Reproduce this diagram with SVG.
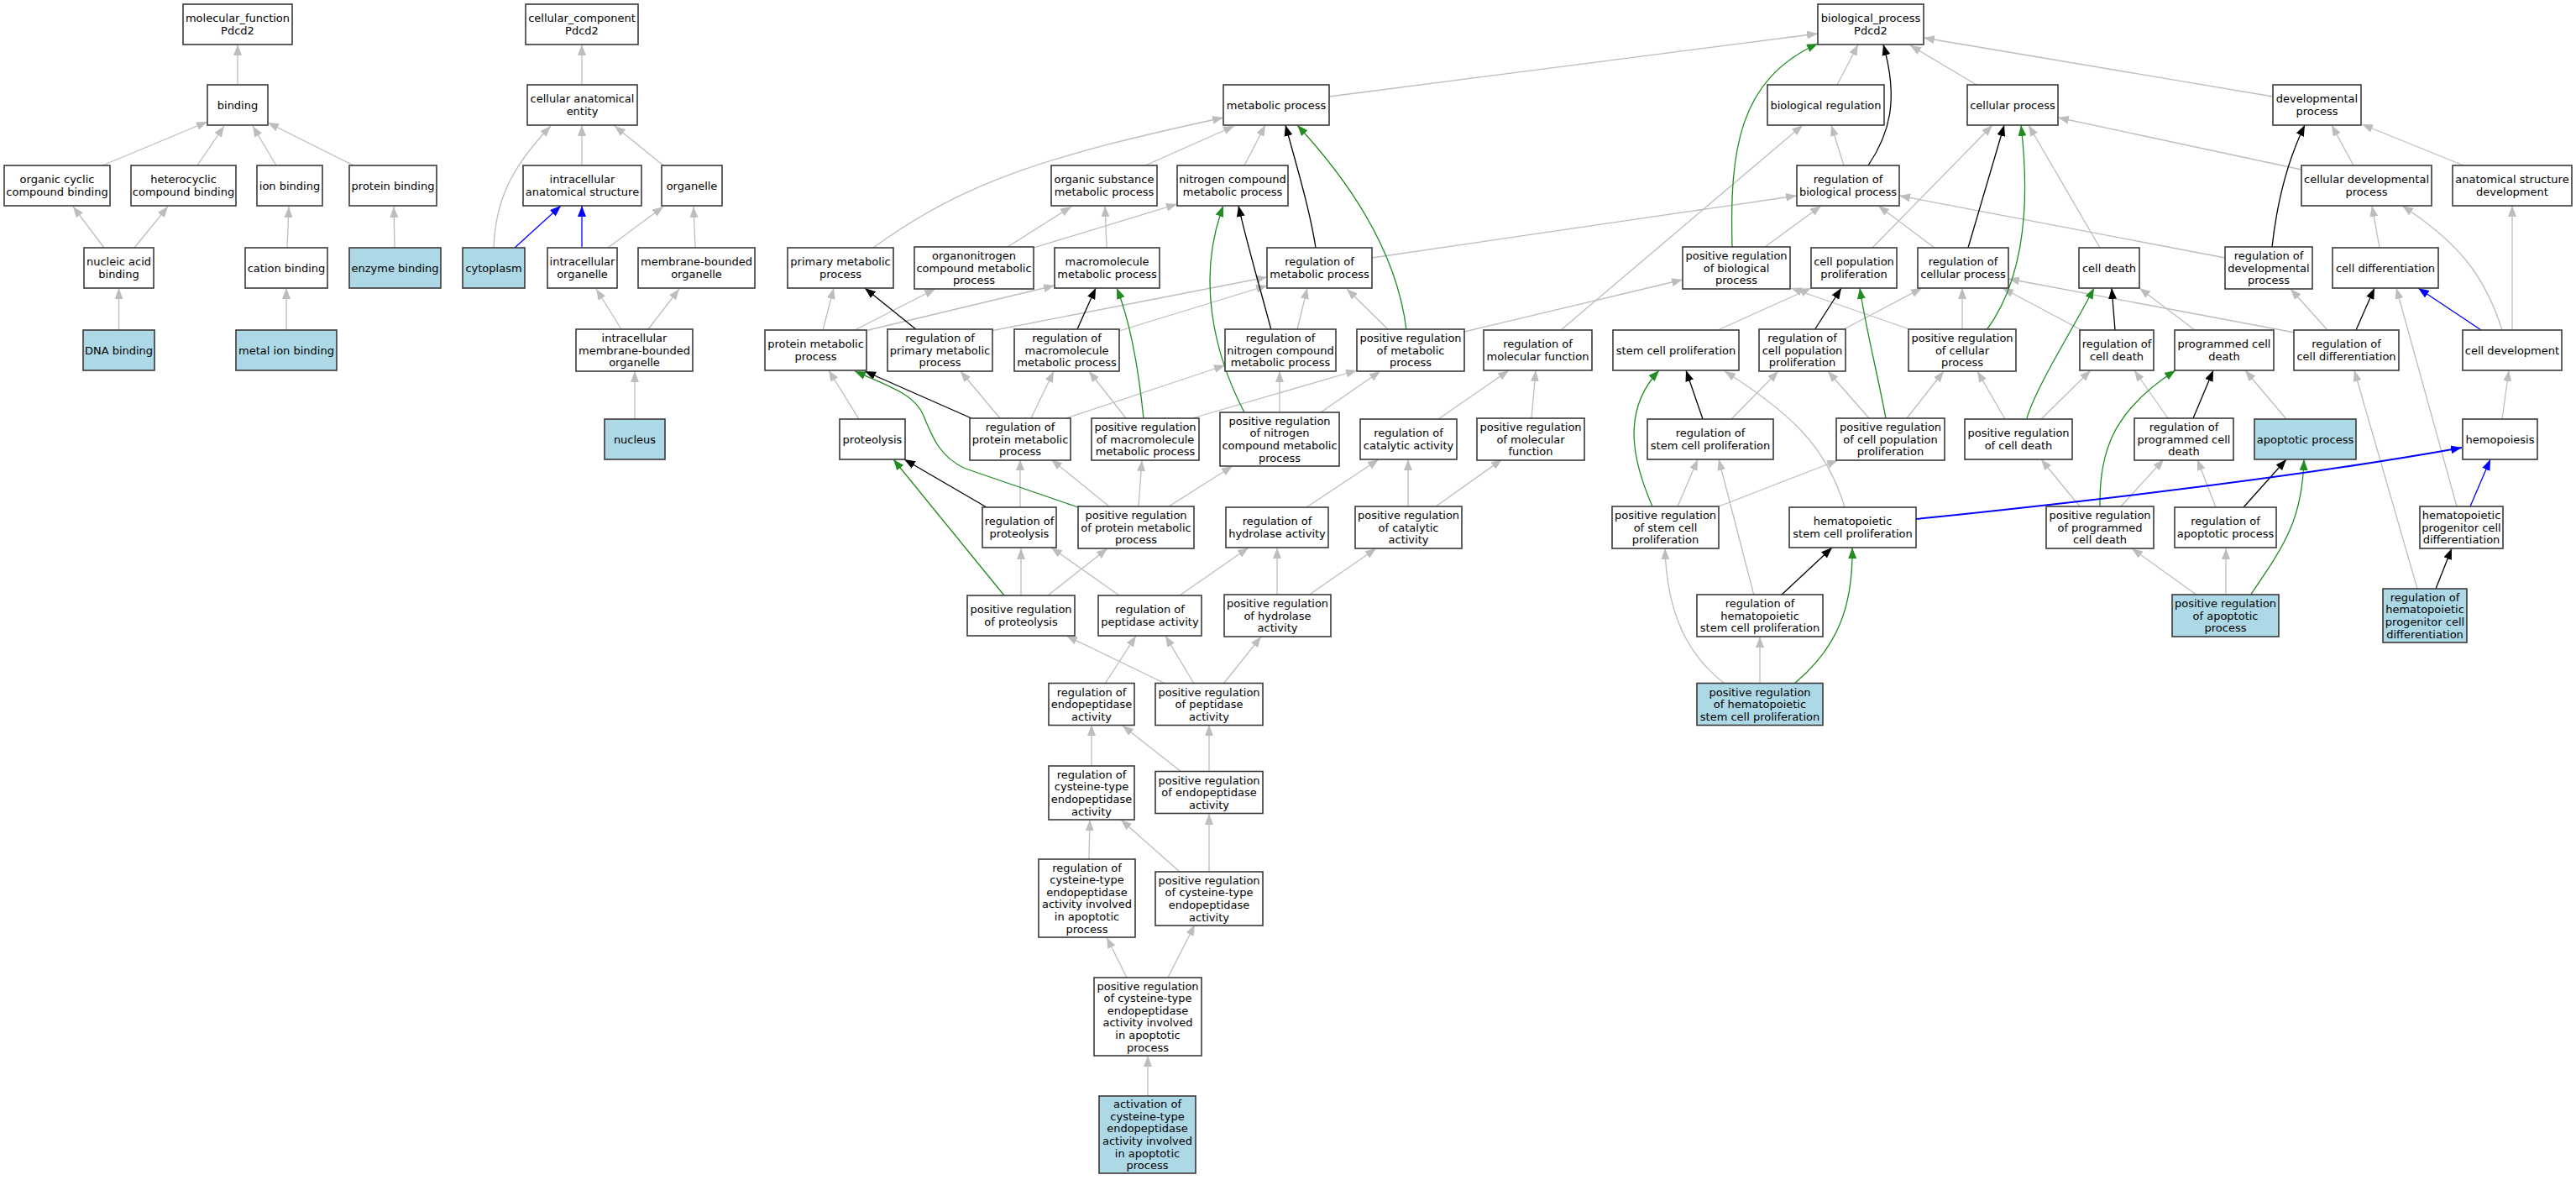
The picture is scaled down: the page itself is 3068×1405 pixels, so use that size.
<svg xmlns="http://www.w3.org/2000/svg" width="3068" height="1405" viewBox="0 0 3068 1405">
<style>
.n rect{fill:#fff;stroke:#3a3a3a;stroke-width:1.6}
.n.b rect{fill:#add8e6}
.n text{font-family:"DejaVu Sans","Liberation Sans",sans-serif;font-size:13px;text-anchor:middle;fill:#000}
.e path{fill:none;stroke-width:1.3}
.e .g{stroke:#bdbdbd;marker-end:url(#mg)}
.e .k{stroke:#000;marker-end:url(#mk)}
.e .gr{stroke:#228b22;marker-end:url(#mgr)}
.e .bl{stroke:#0000ff;marker-end:url(#mb)}
</style>
<defs>
<marker id="mg" viewBox="0 0 13 10" refX="13" refY="5" markerWidth="13" markerHeight="10" markerUnits="userSpaceOnUse" orient="auto"><path d="M0,0L13,5L0,10z" fill="#bdbdbd"/></marker>
<marker id="mk" viewBox="0 0 13 10" refX="13" refY="5" markerWidth="13" markerHeight="10" markerUnits="userSpaceOnUse" orient="auto"><path d="M0,0L13,5L0,10z" fill="#000"/></marker>
<marker id="mgr" viewBox="0 0 13 10" refX="13" refY="5" markerWidth="13" markerHeight="10" markerUnits="userSpaceOnUse" orient="auto"><path d="M0,0L13,5L0,10z" fill="#228b22"/></marker>
<marker id="mb" viewBox="0 0 13 10" refX="13" refY="5" markerWidth="13" markerHeight="10" markerUnits="userSpaceOnUse" orient="auto"><path d="M0,0L13,5L0,10z" fill="#0000ff"/></marker>
</defs>
<rect width="3068" height="1405" fill="#fff"/>
<g id="connectors" class="e">
<path class="g" d="M283,101 L283,53"/>
<path class="g" d="M122,197 L247,145"/>
<path class="g" d="M235,197 L267,150"/>
<path class="g" d="M329,197 L301,150"/>
<path class="g" d="M421,197 L319,146"/>
<path class="g" d="M124,295 L87,246"/>
<path class="g" d="M160,295 L200,246"/>
<path class="g" d="M342,295 L344,246"/>
<path class="g" d="M470,295 L469,246"/>
<path class="g" d="M141.5,393 L141.5,343"/>
<path class="g" d="M341,393 L341,343"/>
<path class="g" d="M693,101 L693,53"/>
<path class="g" d="M588,295 C590,240 608,200 656,150"/>
<path class="g" d="M693,197 L693,149"/>
<path class="g" d="M790,197 L732,150"/>
<path class="g" d="M724,295 L790,246"/>
<path class="g" d="M828,295 L826,246"/>
<path class="g" d="M740,392 L710,344"/>
<path class="g" d="M772,392 L809,344"/>
<path class="g" d="M756,499 L756,442"/>
<path class="g" d="M1583,115 L2165,40"/>
<path class="g" d="M2188,101 L2213,53"/>
<path class="g" d="M2354,101 L2275,54"/>
<path class="g" d="M2707,115 L2291,45"/>
<path class="g" d="M1040,295 C1150,215 1250,185 1457,140"/>
<path class="g" d="M1364,197 L1470,150"/>
<path class="g" d="M1482,197 L1507,149"/>
<path class="g" d="M1200,294 L1276,246"/>
<path class="g" d="M1231,295 L1402,243"/>
<path class="g" d="M1318,295 L1316,245"/>
<path class="g" d="M980,393 L993,343"/>
<path class="g" d="M1018,393 L1114,344"/>
<path class="g" d="M1030,394 L1256,340"/>
<path class="g" d="M1180,394 L1509,330"/>
<path class="g" d="M1333,394 L1509,340"/>
<path class="g" d="M1545,392 L1557,343"/>
<path class="g" d="M1653,392 L1604,344"/>
<path class="g" d="M1634,307 L2140,233"/>
<path class="g" d="M1744,395 L2004,333"/>
<path class="g" d="M1859,393 L2147,149"/>
<path class="g" d="M2196,197 L2181,149"/>
<path class="g" d="M2102,294 L2169,245"/>
<path class="g" d="M2304,295 L2237,245"/>
<path class="g" d="M2650,307 L2262,233"/>
<path class="g" d="M2230,295 L2373,149"/>
<path class="g" d="M2501,295 L2416,149"/>
<path class="g" d="M2741,202 L2451,140"/>
<path class="g" d="M2803,197 L2777,149"/>
<path class="g" d="M2934,197 L2813,148"/>
<path class="g" d="M2834,295 L2825,245"/>
<path class="g" d="M2980,393 C2960,330 2930,290 2861,245"/>
<path class="g" d="M2992,393 L2992,245"/>
<path class="g" d="M2479,393 L2385,343"/>
<path class="g" d="M2337,392 L2337,343"/>
<path class="g" d="M2733,396 L2392,332"/>
<path class="g" d="M2614,393 L2548,343"/>
<path class="g" d="M2772,393 L2728,344"/>
<path class="g" d="M2926,603 L2854,343"/>
<path class="g" d="M2879,701 L2804,441"/>
<path class="g" d="M2271,498 L2315,442"/>
<path class="g" d="M2388,499 L2355,442"/>
<path class="g" d="M2431,499 L2490,441"/>
<path class="g" d="M2477,603 L2431,547"/>
<path class="g" d="M2526,603 L2577,547"/>
<path class="g" d="M2582,498 L2542,441"/>
<path class="g" d="M2723,499 L2674,441"/>
<path class="g" d="M2980,499 L2988,441"/>
<path class="g" d="M2639,604 L2617,547"/>
<path class="g" d="M2617,709 L2539,653"/>
<path class="g" d="M2651,709 L2651,653"/>
<path class="g" d="M2046,393 L2157,343"/>
<path class="g" d="M2277,393 L2133,343"/>
<path class="g" d="M2196,392 L2289,343"/>
<path class="g" d="M1713,499 L1797,441"/>
<path class="g" d="M1824,498 L1829,441"/>
<path class="g" d="M2062,499 L2118,442"/>
<path class="g" d="M1998,603 L2022,547"/>
<path class="g" d="M2047,603 L2189,548"/>
<path class="g" d="M2197,604 C2175,530 2130,490 2054,442"/>
<path class="g" d="M2089,709 L2047,547"/>
<path class="g" d="M2054,814 C2010,780 1985,730 1983,653"/>
<path class="g" d="M2096,814 L2096,758"/>
<path class="g" d="M2226,498 L2177,442"/>
<path class="g" d="M1023,499 L987,441"/>
<path class="g" d="M1191,498 L1144,442"/>
<path class="g" d="M1228,498 L1255,442"/>
<path class="g" d="M1270,498 L1459,435"/>
<path class="g" d="M1341,498 L1297,442"/>
<path class="g" d="M1420,498 L1616,441"/>
<path class="g" d="M1573,491 L1644,442"/>
<path class="g" d="M1524,491 L1524,442"/>
<path class="g" d="M1215,604 L1215,547"/>
<path class="g" d="M1321,603 L1252,547"/>
<path class="g" d="M1356,603 L1360,548"/>
<path class="g" d="M1392,603 L1468,555"/>
<path class="g" d="M1216,709 L1216,653"/>
<path class="g" d="M1248,709 L1319,653"/>
<path class="g" d="M1333,709 L1252,652"/>
<path class="g" d="M1405,709 L1487,652"/>
<path class="g" d="M1388,814 L1270,757"/>
<path class="g" d="M1422,814 L1388,757"/>
<path class="g" d="M1316,814 L1353,757"/>
<path class="g" d="M1458,813 L1502,758"/>
<path class="g" d="M1556,604 L1642,547"/>
<path class="g" d="M1677,603 L1677,547"/>
<path class="g" d="M1710,603 L1789,547"/>
<path class="g" d="M1521,709 L1521,652"/>
<path class="g" d="M1558,709 L1639,653"/>
<path class="g" d="M1300,912 L1300,863"/>
<path class="g" d="M1407,919 L1337,864"/>
<path class="g" d="M1440,919 L1440,863"/>
<path class="g" d="M1297,1023 L1298,976"/>
<path class="g" d="M1405,1038 L1335,976"/>
<path class="g" d="M1440,1038 L1440,969"/>
<path class="g" d="M1342,1164 L1318,1116"/>
<path class="g" d="M1391,1164 L1423,1101"/>
<path class="g" d="M1367,1305 L1367,1257"/>
<path class="k" d="M2225,197 C2250,160 2262,120 2243,53"/>
<path class="k" d="M1567,295 C1560,250 1545,200 1531,149"/>
<path class="k" d="M1514,393 C1500,340 1485,290 1475,245"/>
<path class="k" d="M1092,393 L1030,343"/>
<path class="k" d="M1283,392 L1305,343"/>
<path class="k" d="M2344,295 L2387,149"/>
<path class="k" d="M2706,294 C2712,240 2725,190 2745,149"/>
<path class="k" d="M2519,393 L2515,343"/>
<path class="k" d="M2806,393 L2828,343"/>
<path class="k" d="M2612,498 L2636,441"/>
<path class="k" d="M2672,604 L2723,547"/>
<path class="k" d="M2901,701 L2920,653"/>
<path class="k" d="M2161,393 L2193,343"/>
<path class="k" d="M2028,499 L2008,441"/>
<path class="k" d="M2121,709 L2182,652"/>
<path class="k" d="M1157,498 L1030,442"/>
<path class="k" d="M1175,604 L1077,547"/>
<path class="gr" d="M2063,294 C2060,180 2070,95 2165,52"/>
<path class="gr" d="M1675,393 C1665,310 1620,230 1545,149"/>
<path class="gr" d="M1482,491 C1445,420 1425,330 1457,245"/>
<path class="gr" d="M2366,393 C2405,340 2420,260 2407,149"/>
<path class="gr" d="M2414,498 C2425,460 2470,390 2494,343"/>
<path class="gr" d="M2501,603 C2500,540 2515,490 2591,441"/>
<path class="gr" d="M2680,709 C2720,650 2742,620 2744,547"/>
<path class="gr" d="M2246,498 C2235,440 2222,390 2215,343"/>
<path class="gr" d="M1968,603 C1945,550 1930,490 1976,441"/>
<path class="gr" d="M2137,814 C2190,770 2207,720 2206,652"/>
<path class="gr" d="M1284,604 L1150,558 C1120,545 1110,520 1100,495 C1090,470 1060,460 1018,442"/>
<path class="gr" d="M1362,498 C1355,430 1345,380 1330,343"/>
<path class="gr" d="M1196,709 L1064,547"/>
<path class="bl" d="M613,295 L668,245"/>
<path class="bl" d="M693,294 L693,245"/>
<path class="bl" d="M2955,393 L2880,343"/>
<path class="bl" d="M2282,618 Q2700,575 2932,533" style="stroke-width:2"/>
<path class="bl" d="M2942,603 L2966,547"/>
</g>
<g id="molecular_function" class="n"><rect x="218" y="5" width="130" height="48"/><text><tspan x="283" y="26.3">molecular_function</tspan><tspan x="283" y="40.9">Pdcd2</tspan></text></g>
<g id="cellular_component" class="n"><rect x="626" y="5" width="134" height="48"/><text><tspan x="693" y="26.3">cellular_component</tspan><tspan x="693" y="40.9">Pdcd2</tspan></text></g>
<g id="biological_process" class="n"><rect x="2165" y="5" width="126" height="48"/><text><tspan x="2228" y="26.3">biological_process</tspan><tspan x="2228" y="40.9">Pdcd2</tspan></text></g>
<g id="binding" class="n"><rect x="247" y="101" width="72" height="48"/><text x="283" y="129.6">binding</text></g>
<g id="cellular_anatomical_entity" class="n"><rect x="628" y="101" width="131" height="48"/><text><tspan x="693.5" y="122.3">cellular anatomical</tspan><tspan x="693.5" y="136.9">entity</tspan></text></g>
<g id="metabolic_process" class="n"><rect x="1457" y="101" width="126" height="48"/><text x="1520" y="129.6">metabolic process</text></g>
<g id="biological_regulation" class="n"><rect x="2105" y="101" width="139" height="48"/><text x="2174.5" y="129.6">biological regulation</text></g>
<g id="cellular_process" class="n"><rect x="2343" y="101" width="108" height="48"/><text x="2397" y="129.6">cellular process</text></g>
<g id="developmental_process" class="n"><rect x="2707" y="101" width="105" height="48"/><text><tspan x="2759.5" y="122.3">developmental</tspan><tspan x="2759.5" y="136.9">process</tspan></text></g>
<g id="organic_cyclic_compound_binding" class="n"><rect x="5" y="197" width="126" height="48"/><text><tspan x="68" y="218.3">organic cyclic</tspan><tspan x="68" y="232.9">compound binding</tspan></text></g>
<g id="heterocyclic_compound_binding" class="n"><rect x="156" y="197" width="125" height="48"/><text><tspan x="218.5" y="218.3">heterocyclic</tspan><tspan x="218.5" y="232.9">compound binding</tspan></text></g>
<g id="ion_binding" class="n"><rect x="306" y="197" width="78" height="48"/><text x="345" y="225.6">ion binding</text></g>
<g id="protein_binding" class="n"><rect x="416" y="197" width="104" height="48"/><text x="468" y="225.6">protein binding</text></g>
<g id="intracellular_anatomical_structure" class="n"><rect x="623" y="197" width="141" height="48"/><text><tspan x="693.5" y="218.3">intracellular</tspan><tspan x="693.5" y="232.9">anatomical structure</tspan></text></g>
<g id="organelle" class="n"><rect x="788" y="197" width="72" height="48"/><text x="824" y="225.6">organelle</text></g>
<g id="organic_substance_metabolic_process" class="n"><rect x="1252" y="197" width="126" height="48"/><text><tspan x="1315" y="218.3">organic substance</tspan><tspan x="1315" y="232.9">metabolic process</tspan></text></g>
<g id="nitrogen_compound_metabolic_process" class="n"><rect x="1402" y="197" width="132" height="48"/><text><tspan x="1468" y="218.3">nitrogen compound</tspan><tspan x="1468" y="232.9">metabolic process</tspan></text></g>
<g id="regulation_of_biological_process" class="n"><rect x="2140" y="197" width="122" height="48"/><text><tspan x="2201" y="218.3">regulation of</tspan><tspan x="2201" y="232.9">biological process</tspan></text></g>
<g id="cellular_developmental_process" class="n"><rect x="2741" y="197" width="155" height="48"/><text><tspan x="2818.5" y="218.3">cellular developmental</tspan><tspan x="2818.5" y="232.9">process</tspan></text></g>
<g id="anatomical_structure_development" class="n"><rect x="2921" y="197" width="142" height="48"/><text><tspan x="2992" y="218.3">anatomical structure</tspan><tspan x="2992" y="232.9">development</tspan></text></g>
<g id="nucleic_acid_binding" class="n"><rect x="100" y="295" width="83" height="48"/><text><tspan x="141.5" y="316.3">nucleic acid</tspan><tspan x="141.5" y="330.9">binding</tspan></text></g>
<g id="cation_binding" class="n"><rect x="292" y="295" width="98" height="48"/><text x="341" y="323.6">cation binding</text></g>
<g id="enzyme_binding" class="n b"><rect x="416" y="295" width="109" height="48"/><text x="470.5" y="323.6">enzyme binding</text></g>
<g id="cytoplasm" class="n b"><rect x="551" y="295" width="74" height="48"/><text x="588" y="323.6">cytoplasm</text></g>
<g id="intracellular_organelle" class="n"><rect x="652" y="295" width="83" height="48"/><text><tspan x="693.5" y="316.3">intracellular</tspan><tspan x="693.5" y="330.9">organelle</tspan></text></g>
<g id="membrane_bounded_organelle" class="n"><rect x="760" y="295" width="139" height="48"/><text><tspan x="829.5" y="316.3">membrane-bounded</tspan><tspan x="829.5" y="330.9">organelle</tspan></text></g>
<g id="primary_metabolic_process" class="n"><rect x="938" y="295" width="126" height="48"/><text><tspan x="1001" y="316.3">primary metabolic</tspan><tspan x="1001" y="330.9">process</tspan></text></g>
<g id="organonitrogen_compound_metabolic_process" class="n"><rect x="1089" y="294" width="142" height="50"/><text><tspan x="1160" y="309">organonitrogen</tspan><tspan x="1160" y="323.6">compound metabolic</tspan><tspan x="1160" y="338.2">process</tspan></text></g>
<g id="macromolecule_metabolic_process" class="n"><rect x="1256" y="295" width="125" height="48"/><text><tspan x="1318.5" y="316.3">macromolecule</tspan><tspan x="1318.5" y="330.9">metabolic process</tspan></text></g>
<g id="regulation_of_metabolic_process" class="n"><rect x="1509" y="295" width="125" height="48"/><text><tspan x="1571.5" y="316.3">regulation of</tspan><tspan x="1571.5" y="330.9">metabolic process</tspan></text></g>
<g id="positive_regulation_of_biological_process" class="n"><rect x="2004" y="294" width="128" height="50"/><text><tspan x="2068" y="309">positive regulation</tspan><tspan x="2068" y="323.6">of biological</tspan><tspan x="2068" y="338.2">process</tspan></text></g>
<g id="cell_population_proliferation" class="n"><rect x="2157" y="295" width="102" height="48"/><text><tspan x="2208" y="316.3">cell population</tspan><tspan x="2208" y="330.9">proliferation</tspan></text></g>
<g id="regulation_of_cellular_process" class="n"><rect x="2284" y="295" width="108" height="48"/><text><tspan x="2338" y="316.3">regulation of</tspan><tspan x="2338" y="330.9">cellular process</tspan></text></g>
<g id="cell_death" class="n"><rect x="2476" y="295" width="72" height="48"/><text x="2512" y="323.6">cell death</text></g>
<g id="regulation_of_developmental_process" class="n"><rect x="2650" y="294" width="104" height="50"/><text><tspan x="2702" y="309">regulation of</tspan><tspan x="2702" y="323.6">developmental</tspan><tspan x="2702" y="338.2">process</tspan></text></g>
<g id="cell_differentiation" class="n"><rect x="2778" y="295" width="126" height="48"/><text x="2841" y="323.6">cell differentiation</text></g>
<g id="DNA_binding" class="n b"><rect x="99" y="393" width="85" height="48"/><text x="141.5" y="421.6">DNA binding</text></g>
<g id="metal_ion_binding" class="n b"><rect x="281" y="393" width="120" height="48"/><text x="341" y="421.6">metal ion binding</text></g>
<g id="intracellular_membrane_bounded_organelle" class="n"><rect x="686" y="392" width="139" height="50"/><text><tspan x="755.5" y="407">intracellular</tspan><tspan x="755.5" y="421.6">membrane-bounded</tspan><tspan x="755.5" y="436.2">organelle</tspan></text></g>
<g id="protein_metabolic_process" class="n"><rect x="911" y="393" width="121" height="48"/><text><tspan x="971.5" y="414.3">protein metabolic</tspan><tspan x="971.5" y="428.9">process</tspan></text></g>
<g id="regulation_of_primary_metabolic_process" class="n"><rect x="1057" y="392" width="125" height="50"/><text><tspan x="1119.5" y="407">regulation of</tspan><tspan x="1119.5" y="421.6">primary metabolic</tspan><tspan x="1119.5" y="436.2">process</tspan></text></g>
<g id="regulation_of_macromolecule_metabolic_process" class="n"><rect x="1208" y="392" width="125" height="50"/><text><tspan x="1270.5" y="407">regulation of</tspan><tspan x="1270.5" y="421.6">macromolecule</tspan><tspan x="1270.5" y="436.2">metabolic process</tspan></text></g>
<g id="regulation_of_nitrogen_compound_metabolic_process" class="n"><rect x="1459" y="392" width="132" height="50"/><text><tspan x="1525" y="407">regulation of</tspan><tspan x="1525" y="421.6">nitrogen compound</tspan><tspan x="1525" y="436.2">metabolic process</tspan></text></g>
<g id="positive_regulation_of_metabolic_process" class="n"><rect x="1616" y="392" width="128" height="50"/><text><tspan x="1680" y="407">positive regulation</tspan><tspan x="1680" y="421.6">of metabolic</tspan><tspan x="1680" y="436.2">process</tspan></text></g>
<g id="regulation_of_molecular_function" class="n"><rect x="1767" y="393" width="129" height="48"/><text><tspan x="1831.5" y="414.3">regulation of</tspan><tspan x="1831.5" y="428.9">molecular function</tspan></text></g>
<g id="stem_cell_proliferation" class="n"><rect x="1921" y="393" width="150" height="48"/><text x="1996" y="421.6">stem cell proliferation</text></g>
<g id="regulation_of_cell_population_proliferation" class="n"><rect x="2095" y="392" width="103" height="50"/><text><tspan x="2146.5" y="407">regulation of</tspan><tspan x="2146.5" y="421.6">cell population</tspan><tspan x="2146.5" y="436.2">proliferation</tspan></text></g>
<g id="positive_regulation_of_cellular_process" class="n"><rect x="2273" y="392" width="128" height="50"/><text><tspan x="2337" y="407">positive regulation</tspan><tspan x="2337" y="421.6">of cellular</tspan><tspan x="2337" y="436.2">process</tspan></text></g>
<g id="regulation_of_cell_death" class="n"><rect x="2477" y="393" width="88" height="48"/><text><tspan x="2521" y="414.3">regulation of</tspan><tspan x="2521" y="428.9">cell death</tspan></text></g>
<g id="programmed_cell_death" class="n"><rect x="2590" y="393" width="118" height="48"/><text><tspan x="2649" y="414.3">programmed cell</tspan><tspan x="2649" y="428.9">death</tspan></text></g>
<g id="regulation_of_cell_differentiation" class="n"><rect x="2732" y="393" width="125" height="48"/><text><tspan x="2794.5" y="414.3">regulation of</tspan><tspan x="2794.5" y="428.9">cell differentiation</tspan></text></g>
<g id="cell_development" class="n"><rect x="2933" y="393" width="118" height="48"/><text x="2992" y="421.6">cell development</text></g>
<g id="nucleus" class="n b"><rect x="720" y="499" width="72" height="48"/><text x="756" y="527.6">nucleus</text></g>
<g id="proteolysis" class="n"><rect x="1000" y="499" width="78" height="48"/><text x="1039" y="527.6">proteolysis</text></g>
<g id="regulation_of_protein_metabolic_process" class="n"><rect x="1155" y="498" width="120" height="50"/><text><tspan x="1215" y="513">regulation of</tspan><tspan x="1215" y="527.6">protein metabolic</tspan><tspan x="1215" y="542.2">process</tspan></text></g>
<g id="positive_regulation_of_macromolecule_metabolic_process" class="n"><rect x="1300" y="498" width="128" height="50"/><text><tspan x="1364" y="513">positive regulation</tspan><tspan x="1364" y="527.6">of macromolecule</tspan><tspan x="1364" y="542.2">metabolic process</tspan></text></g>
<g id="positive_regulation_of_nitrogen_compound_metabolic_process" class="n"><rect x="1453" y="491" width="142" height="64"/><text><tspan x="1524" y="505.7">positive regulation</tspan><tspan x="1524" y="520.3">of nitrogen</tspan><tspan x="1524" y="534.9">compound metabolic</tspan><tspan x="1524" y="549.5">process</tspan></text></g>
<g id="regulation_of_catalytic_activity" class="n"><rect x="1620" y="499" width="115" height="48"/><text><tspan x="1677.5" y="520.3">regulation of</tspan><tspan x="1677.5" y="534.9">catalytic activity</tspan></text></g>
<g id="positive_regulation_of_molecular_function" class="n"><rect x="1759" y="498" width="128" height="50"/><text><tspan x="1823" y="513">positive regulation</tspan><tspan x="1823" y="527.6">of molecular</tspan><tspan x="1823" y="542.2">function</tspan></text></g>
<g id="regulation_of_stem_cell_proliferation" class="n"><rect x="1962" y="499" width="150" height="48"/><text><tspan x="2037" y="520.3">regulation of</tspan><tspan x="2037" y="534.9">stem cell proliferation</tspan></text></g>
<g id="positive_regulation_of_cell_population_proliferation" class="n"><rect x="2187" y="498" width="129" height="50"/><text><tspan x="2251.5" y="513">positive regulation</tspan><tspan x="2251.5" y="527.6">of cell population</tspan><tspan x="2251.5" y="542.2">proliferation</tspan></text></g>
<g id="positive_regulation_of_cell_death" class="n"><rect x="2340" y="499" width="128" height="48"/><text><tspan x="2404" y="520.3">positive regulation</tspan><tspan x="2404" y="534.9">of cell death</tspan></text></g>
<g id="regulation_of_programmed_cell_death" class="n"><rect x="2542" y="498" width="118" height="50"/><text><tspan x="2601" y="513">regulation of</tspan><tspan x="2601" y="527.6">programmed cell</tspan><tspan x="2601" y="542.2">death</tspan></text></g>
<g id="apoptotic_process" class="n b"><rect x="2685" y="499" width="121" height="48"/><text x="2745.5" y="527.6">apoptotic process</text></g>
<g id="hemopoiesis" class="n"><rect x="2933" y="499" width="89" height="48"/><text x="2977.5" y="527.6">hemopoiesis</text></g>
<g id="regulation_of_proteolysis" class="n"><rect x="1170" y="604" width="88" height="48"/><text><tspan x="1214" y="625.3">regulation of</tspan><tspan x="1214" y="639.9">proteolysis</tspan></text></g>
<g id="positive_regulation_of_protein_metabolic_process" class="n"><rect x="1284" y="603" width="138" height="50"/><text><tspan x="1353" y="618">positive regulation</tspan><tspan x="1353" y="632.6">of protein metabolic</tspan><tspan x="1353" y="647.2">process</tspan></text></g>
<g id="regulation_of_hydrolase_activity" class="n"><rect x="1460" y="604" width="122" height="48"/><text><tspan x="1521" y="625.3">regulation of</tspan><tspan x="1521" y="639.9">hydrolase activity</tspan></text></g>
<g id="positive_regulation_of_catalytic_activity" class="n"><rect x="1614" y="603" width="127" height="50"/><text><tspan x="1677.5" y="618">positive regulation</tspan><tspan x="1677.5" y="632.6">of catalytic</tspan><tspan x="1677.5" y="647.2">activity</tspan></text></g>
<g id="positive_regulation_of_stem_cell_proliferation" class="n"><rect x="1920" y="603" width="127" height="50"/><text><tspan x="1983.5" y="618">positive regulation</tspan><tspan x="1983.5" y="632.6">of stem cell</tspan><tspan x="1983.5" y="647.2">proliferation</tspan></text></g>
<g id="hematopoietic_stem_cell_proliferation" class="n"><rect x="2131" y="604" width="151" height="48"/><text><tspan x="2206.5" y="625.3">hematopoietic</tspan><tspan x="2206.5" y="639.9">stem cell proliferation</tspan></text></g>
<g id="positive_regulation_of_programmed_cell_death" class="n"><rect x="2437" y="603" width="128" height="50"/><text><tspan x="2501" y="618">positive regulation</tspan><tspan x="2501" y="632.6">of programmed</tspan><tspan x="2501" y="647.2">cell death</tspan></text></g>
<g id="regulation_of_apoptotic_process" class="n"><rect x="2590" y="604" width="121" height="48"/><text><tspan x="2650.5" y="625.3">regulation of</tspan><tspan x="2650.5" y="639.9">apoptotic process</tspan></text></g>
<g id="hematopoietic_progenitor_cell_differentiation" class="n"><rect x="2882" y="603" width="99" height="50"/><text><tspan x="2931.5" y="618">hematopoietic</tspan><tspan x="2931.5" y="632.6">progenitor cell</tspan><tspan x="2931.5" y="647.2">differentiation</tspan></text></g>
<g id="positive_regulation_of_proteolysis" class="n"><rect x="1152" y="709" width="128" height="48"/><text><tspan x="1216" y="730.3">positive regulation</tspan><tspan x="1216" y="744.9">of proteolysis</tspan></text></g>
<g id="regulation_of_peptidase_activity" class="n"><rect x="1308" y="709" width="123" height="48"/><text><tspan x="1369.5" y="730.3">regulation of</tspan><tspan x="1369.5" y="744.9">peptidase activity</tspan></text></g>
<g id="positive_regulation_of_hydrolase_activity" class="n"><rect x="1458" y="708" width="127" height="50"/><text><tspan x="1521.5" y="723">positive regulation</tspan><tspan x="1521.5" y="737.6">of hydrolase</tspan><tspan x="1521.5" y="752.2">activity</tspan></text></g>
<g id="regulation_of_hematopoietic_stem_cell_proliferation" class="n"><rect x="2021" y="708" width="150" height="50"/><text><tspan x="2096" y="723">regulation of</tspan><tspan x="2096" y="737.6">hematopoietic</tspan><tspan x="2096" y="752.2">stem cell proliferation</tspan></text></g>
<g id="positive_regulation_of_apoptotic_process" class="n b"><rect x="2587" y="708" width="127" height="50"/><text><tspan x="2650.5" y="723">positive regulation</tspan><tspan x="2650.5" y="737.6">of apoptotic</tspan><tspan x="2650.5" y="752.2">process</tspan></text></g>
<g id="regulation_of_hematopoietic_progenitor_cell_differentiation" class="n b"><rect x="2838" y="701" width="100" height="64"/><text><tspan x="2888" y="715.7">regulation of</tspan><tspan x="2888" y="730.3">hematopoietic</tspan><tspan x="2888" y="744.9">progenitor cell</tspan><tspan x="2888" y="759.5">differentiation</tspan></text></g>
<g id="regulation_of_endopeptidase_activity" class="n"><rect x="1249" y="813.5" width="102" height="50"/><text><tspan x="1300" y="828.5">regulation of</tspan><tspan x="1300" y="843.1">endopeptidase</tspan><tspan x="1300" y="857.7">activity</tspan></text></g>
<g id="positive_regulation_of_peptidase_activity" class="n"><rect x="1376" y="813.5" width="128" height="50"/><text><tspan x="1440" y="828.5">positive regulation</tspan><tspan x="1440" y="843.1">of peptidase</tspan><tspan x="1440" y="857.7">activity</tspan></text></g>
<g id="positive_regulation_of_hematopoietic_stem_cell_proliferation" class="n b"><rect x="2021" y="813.5" width="150" height="50"/><text><tspan x="2096" y="828.5">positive regulation</tspan><tspan x="2096" y="843.1">of hematopoietic</tspan><tspan x="2096" y="857.7">stem cell proliferation</tspan></text></g>
<g id="regulation_of_cysteine_type_endopeptidase_activity" class="n"><rect x="1249" y="912" width="102" height="64"/><text><tspan x="1300" y="926.7">regulation of</tspan><tspan x="1300" y="941.3">cysteine-type</tspan><tspan x="1300" y="955.9">endopeptidase</tspan><tspan x="1300" y="970.5">activity</tspan></text></g>
<g id="positive_regulation_of_endopeptidase_activity" class="n"><rect x="1376" y="918.5" width="128" height="50"/><text><tspan x="1440" y="933.5">positive regulation</tspan><tspan x="1440" y="948.1">of endopeptidase</tspan><tspan x="1440" y="962.7">activity</tspan></text></g>
<g id="regulation_of_cysteine_type_endopeptidase_activity_involved_in_apoptotic_process" class="n"><rect x="1237" y="1023" width="115" height="93"/><text><tspan x="1294.5" y="1037.6">regulation of</tspan><tspan x="1294.5" y="1052.2">cysteine-type</tspan><tspan x="1294.5" y="1066.8">endopeptidase</tspan><tspan x="1294.5" y="1081.4">activity involved</tspan><tspan x="1294.5" y="1096">in apoptotic</tspan><tspan x="1294.5" y="1110.6">process</tspan></text></g>
<g id="positive_regulation_of_cysteine_type_endopeptidase_activity" class="n"><rect x="1376" y="1038" width="128" height="64"/><text><tspan x="1440" y="1052.7">positive regulation</tspan><tspan x="1440" y="1067.3">of cysteine-type</tspan><tspan x="1440" y="1081.9">endopeptidase</tspan><tspan x="1440" y="1096.5">activity</tspan></text></g>
<g id="positive_regulation_of_cysteine_type_endopeptidase_activity_involved_in_apoptotic_process" class="n"><rect x="1303" y="1164" width="128" height="93"/><text><tspan x="1367" y="1178.6">positive regulation</tspan><tspan x="1367" y="1193.2">of cysteine-type</tspan><tspan x="1367" y="1207.8">endopeptidase</tspan><tspan x="1367" y="1222.4">activity involved</tspan><tspan x="1367" y="1237">in apoptotic</tspan><tspan x="1367" y="1251.6">process</tspan></text></g>
<g id="activation_of_cysteine_type_endopeptidase_activity_involved_in_apoptotic_process" class="n b"><rect x="1309" y="1305" width="115" height="92"/><text><tspan x="1366.5" y="1319.1">activation of</tspan><tspan x="1366.5" y="1333.7">cysteine-type</tspan><tspan x="1366.5" y="1348.3">endopeptidase</tspan><tspan x="1366.5" y="1362.9">activity involved</tspan><tspan x="1366.5" y="1377.5">in apoptotic</tspan><tspan x="1366.5" y="1392.1">process</tspan></text></g>
</svg>
